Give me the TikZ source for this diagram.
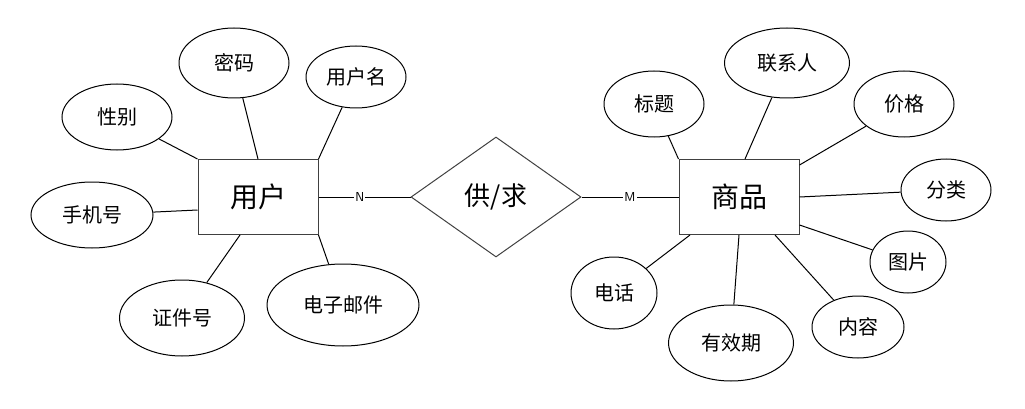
\documentclass[tikz,border=0pt]{standalone}
\usepackage{fontspec}
\setmainfont{Noto Sans CJK SC}
\usetikzlibrary{shapes.geometric}
\tikzset{every picture/.style={line width=1pt}}
\tikzset{
	entity/.style={draw, minimum width=120pt, minimum height=75pt, font=\fontsize{28}{30}\selectfont},
	attr/.style={draw, ellipse, inner sep=0pt, font=\fontsize{20}{22}\selectfont},
	rel/.style={draw, diamond, aspect=1.42, minimum width=170pt, minimum height=120pt, inner sep=0pt, font=\fontsize{26}{28}\selectfont},
	card/.style={fill=white, inner sep=1pt, font=\sffamily\fontsize{13}{14}\selectfont}}

\begin{document}
\begin{tikzpicture}[x=1pt,y=1pt,yscale=-1,xscale=1]
	\useasboundingbox (0,0) rectangle (1025,409);
	\draw[draw=black!75]
	% Entities
	(258,197) node[entity] (user) {用户}
	(496,197) node[rel] (supply) {供/求}
	(739,197) node[entity] (goods) {商品};

	% User attributes
	\node[attr, minimum width=110pt, minimum height=70pt] (pwd) at (234,63) {密码};
	\node[attr, minimum width=100pt, minimum height=62pt] (uname) at (356,77) {用户名};
	\node[attr, minimum width=110pt, minimum height=66pt] (sex) at (117,117) {性别};
	\node[attr, minimum width=122pt, minimum height=66pt] (phone) at (92,215) {手机号};
	\node[attr, minimum width=125pt, minimum height=76pt] (idno) at (182,318) {证件号};
	\node[attr, minimum width=152pt, minimum height=82pt] (email) at (343,305) {电子邮件};

	% Goods attributes
	\node[attr, minimum width=100pt, minimum height=66pt] (title) at (654,104) {标题};
	\node[attr, minimum width=125pt, minimum height=70pt] (contact) at (787,63) {联系人};
	\node[attr, minimum width=100pt, minimum height=66pt] (price) at (904,104) {价格};
	\node[attr, minimum width=90pt, minimum height=62pt] (kind) at (946,190) {分类};
	\node[attr, minimum width=76pt, minimum height=62pt] (pic) at (908,262) {图片};
	\node[attr, minimum width=92pt, minimum height=62pt] (content) at (858,327) {内容};
	\node[attr, minimum width=125pt, minimum height=76pt] (expiry) at (731,343) {有效期};
	\node[attr, minimum width=86pt, minimum height=72pt] (tel) at (614,293) {电话};

	% Links
	\draw (pwd) -- (user.north);
	\draw (uname) -- (user.north east);
	\draw (sex) -- (user.north west);
	\draw (phone) -- ([yshift=13pt]user.west);
	\draw (idno) -- ([xshift=-18pt]user.south);
	\draw (email) -- (user.south east);
	\draw (title) -- (goods.north west);
	\draw (contact) -- ([xshift=6pt]goods.north);
	\draw (price) -- ([yshift=-32pt]goods.east);
	\draw (kind) -- (goods.east);
	\draw (pic) -- ([yshift=28pt]goods.east);
	\draw (content) -- ([xshift=36pt]goods.south);
	\draw (expiry) -- (goods.south);
	\draw (tel) -- ([xshift=-49pt]goods.south);
	\draw (user) -- node[card, pos=0.45] {N} (supply);
	\draw (supply) -- node[card, pos=0.5] {M} (goods);
\end{tikzpicture}
\end{document}
